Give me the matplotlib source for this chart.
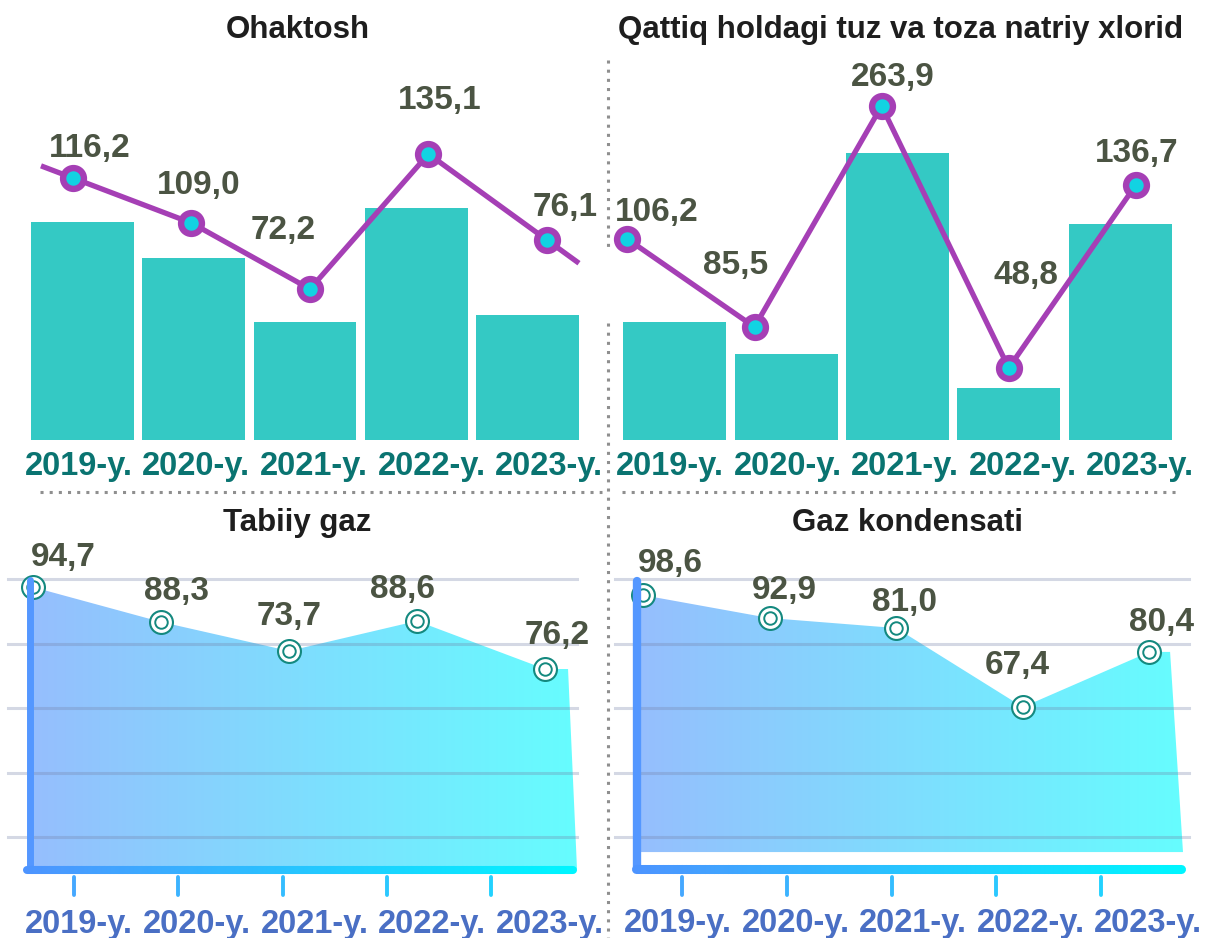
import numpy as np
import matplotlib
matplotlib.use('Agg')
import matplotlib.pyplot as plt
from matplotlib.collections import LineCollection
from matplotlib.patches import Polygon
from matplotlib.colors import to_rgb

plt.rcParams['font.family'] = ['Liberation Sans', 'DejaVu Sans']

# ---------------- data ----------------
years = ['2019-y.', '2020-y.', '2021-y.', '2022-y.', '2023-y.']

titles = ['Ohaktosh', 'Qattiq holdagi tuz va toza natriy xlorid',
          'Tabiiy gaz', 'Gaz kondensati']

# top panels: labelled values, bar levels and line levels
ohaktosh_values = [116.2, 109.0, 72.2, 135.1, 76.1]
ohaktosh_bars = [218, 182, 118, 232, 125]
ohaktosh_line = [262, 217, 151, 286, 200]

tuz_values = [106.2, 85.5, 263.9, 48.8, 136.7]
tuz_bars = [118, 86, 287, 52, 216]
tuz_line = [201, 113, 334, 72, 255]

# bottom panels: labelled values and drawn levels
gaz_values = [94.7, 88.3, 73.7, 88.6, 76.2]
gaz_levels = [97.5, 86.7, 77.7, 87.0, 72.1]

kond_values = [98.6, 92.9, 81.0, 67.4, 80.4]
kond_levels = [95.0, 87.9, 84.8, 60.3, 77.4]

grid_levels = [20, 40, 60, 80, 100]

# ---------------- style ----------------
W, H = 1205, 938
BAR = '#34c9c4'
PURPLE = '#a53fb5'
CYAN = '#12d3e2'
VAL = '#4b5443'
TOP_XL = '#0a7471'
BOT_XL = '#4a6fc4'
TEAL = '#14897f'
TITLE = '#1e1e1e'
FILL_L = np.array([150, 190, 253]) / 255
FILL_R = np.array([102, 253, 255]) / 255
SP_L = np.array([77, 148, 255]) / 255
SP_R = np.array([0, 245, 255]) / 255


def fmt(v):
    return f"{v:.1f}".replace('.', ',')


def rect(x0, y0, x1, y1):
    return [x0 / W, 1 - y1 / H, (x1 - x0) / W, (y1 - y0) / H]


fig = plt.figure(figsize=(W / 100, H / 100), dpi=100)
fig.patch.set_facecolor('white')


def label_row(x0, x1, yc, color):
    a = fig.add_axes(rect(x0, yc - 15, x1, yc + 15))
    a.set_xlim(-0.5, 4.5)
    a.set_ylim(0, 1)
    a.axis('off')
    for i, lab in enumerate(years):
        a.text(i, 0.5, lab, ha='center', va='center', fontsize=23.5,
               fontweight='bold', color=color)


def bar_panel(box, line_xlim, values, bars, line, lead, offsets):
    ax = fig.add_axes(rect(*box))
    x = np.arange(len(bars))
    ax.bar(x, bars, width=0.926, color=BAR, zorder=1)
    ax.set_xlim(-0.5, 4.5)
    ax.set_ylim(0, 380)
    ax.axis('off')
    ax2 = ax.twiny()
    ax2.set_xlim(*line_xlim)
    ax2.set_ylim(0, 380)
    ax2.axis('off')
    lx = x.astype(float)
    ly = np.array(line, float)
    if lead:
        xe = np.concatenate([[lx[0] - lead * (lx[1] - lx[0])], lx,
                             [lx[-1] + lead * (lx[-1] - lx[-2])]])
        ye = np.concatenate([[ly[0] - lead * (ly[1] - ly[0])], ly,
                             [ly[-1] + lead * (ly[-1] - ly[-2])]])
    else:
        xe, ye = lx, ly
    ax2.plot(xe, ye, color=PURPLE, lw=3.8, solid_capstyle='butt',
             solid_joinstyle='round', clip_on=False, zorder=3)
    ax2.plot(lx, ly, 'o', ms=15, mfc=CYAN, mec=PURPLE, mew=4.6,
             clip_on=False, zorder=4)
    for xi, yi, v, (dx, dy) in zip(lx, ly, values, offsets):
        ax2.annotate(fmt(v), (xi, yi), xytext=(dx, dy),
                     textcoords='offset pixels', ha='center', va='center',
                     fontsize=24, fontweight='bold', color=VAL, zorder=5,
                     annotation_clip=False)


def area_panel(box, xlim, levels, values, offsets, top_right_x, base,
               grid_span):
    ax = fig.add_axes(rect(*box))
    ylim = (10.1, 105.9)
    x = np.arange(len(levels))
    xs = [xlim[0]] + list(x) + [top_right_x, xlim[1], xlim[0]]
    ys = [levels[0]] + list(levels) + [levels[-1], base, base]
    poly = Polygon(np.column_stack([xs, ys]), closed=True,
                   facecolor='none', edgecolor='none')
    ax.add_patch(poly)
    t = np.linspace(0, 1, 256)[:, None]
    grad = (FILL_L[None, :] * (1 - t) + FILL_R[None, :] * t)[None, :, :]
    im = ax.imshow(grad, extent=[xlim[0], xlim[1], ylim[0], ylim[1]],
                   aspect='auto', interpolation='bilinear', zorder=1)
    im.set_clip_path(poly)
    ax.set_xlim(*xlim)
    ax.set_ylim(*ylim)
    ax.axis('off')
    for g in grid_levels:
        ax.axhline(g, xmin=grid_span[0], xmax=grid_span[1],
                   color=(0.45, 0.5, 0.65), alpha=0.3, lw=2.2,
                   clip_on=False, zorder=2)
    ax.plot(x, levels, 'o', ms=16.5, mfc='white', mec=TEAL, mew=1.5,
            clip_on=False, zorder=5)
    ax.plot(x, levels, 'o', ms=9, mfc='white', mec=TEAL, mew=1.4,
            clip_on=False, zorder=6)
    for xi, yi, v, (dx, dy) in zip(x, levels, values, offsets):
        ax.annotate(fmt(v), (xi, yi), xytext=(dx, dy),
                    textcoords='offset pixels', ha='center', va='center',
                    fontsize=24, fontweight='bold', color=VAL, zorder=7,
                    annotation_clip=False)


def tick_row(x0, x1, y0, y1):
    a = fig.add_axes(rect(x0, y0, x1, y1))
    a.set_xlim(-0.5, 4.5)
    a.set_ylim(0, 1)
    a.axis('off')
    c0, c1 = np.array(to_rgb('#45a8ff')), np.array(to_rgb('#22d2ff'))
    cols = [tuple(c0 * (1 - f) + c1 * f) for f in np.linspace(0, 1, 5)]
    lc = a.vlines(range(5), 0.1, 0.9, colors=cols, lw=2.8)
    lc.set_capstyle('round')


# ---------------- top panels ----------------
bar_panel((27, 60, 583, 440), (-0.388, 4.304), ohaktosh_values,
          ohaktosh_bars, ohaktosh_line, 0.27,
          [(17, 30), (7.5, 38), (-27, 59), (11.5, 54), (18, 33)])
bar_panel((619, 60, 1176, 440), (-0.066, 4.316), tuz_values,
          tuz_bars, tuz_line, 0,
          [(29, 27), (-19, 62), (11, 29), (17, 93), (1, 32)])
label_row(20, 608, 466, TOP_XL)
label_row(611.25, 1198.75, 466, TOP_XL)

# ---------------- bottom panels ----------------
area_panel((30, 560, 577, 869), (-0.023, 4.25), gaz_levels, gaz_values,
           [(30, 30), (16, 30), (0, 34), (-14, 31), (12, 34)],
           4.18, 10.1, (-0.04, 1.0))
area_panel((637, 560, 1183, 869), (-0.047, 4.265), kond_levels, kond_values,
           [(27, 32), (15, 28), (8, 26), (-6, 42), (12, 29)],
           4.163, 15.35, (-0.04, 1.011))
tick_row(21.9, 543.1, 875, 897)
tick_row(629.6, 1153.4, 875, 897)
label_row(20.1, 608.9, 924, BOT_XL)
label_row(619.25, 1206.75, 923, BOT_XL)

# ---------------- titles ----------------
for t, (tx, ty) in zip(titles, [(298, 30), (901, 30), (297, 523), (907, 523)]):
    fig.text(tx / W, 1 - ty / H, t, ha='center', va='center', fontsize=22.5,
             fontweight='bold', color=TITLE)

# ---------------- decorations overlay (separators, axis bars) ----------------
ov = fig.add_axes([0, 0, 1, 1])
ov.set_xlim(0, W)
ov.set_ylim(H, 0)
ov.axis('off')
dot = dict(color='#8f8f8f', lw=2.2, linestyle=(0, (1, 2)),
           dash_capstyle='butt')
ov.plot([608, 608], [60, 247], **dot)
ov.plot([608, 608], [323, 938], **dot)
ov.plot([40, 602], [492, 492], **dot)
ov.plot([622, 1181], [492, 492], **dot)

# left axis bars
ov.plot([30, 30], [580, 869], color='#5497ff', lw=5, solid_capstyle='round')
ov.plot([637, 637], [581, 869], color='#5497ff', lw=6, solid_capstyle='round')


def grad_bar(x0, x1, y, lw):
    xs = np.linspace(x0, x1, 120)
    segs = [[(xs[i], y), (xs[i + 1], y)] for i in range(len(xs) - 1)]
    f = np.linspace(0, 1, len(segs))[:, None]
    cols = SP_L[None, :] * (1 - f) + SP_R[None, :] * f
    lc = LineCollection(segs, colors=cols, linewidths=lw, capstyle='round')
    ov.add_collection(lc)


grad_bar(27, 573, 870, 5.8)
grad_bar(636, 1181, 869, 6.5)

fig.savefig('out.png', dpi=100, facecolor='white')
